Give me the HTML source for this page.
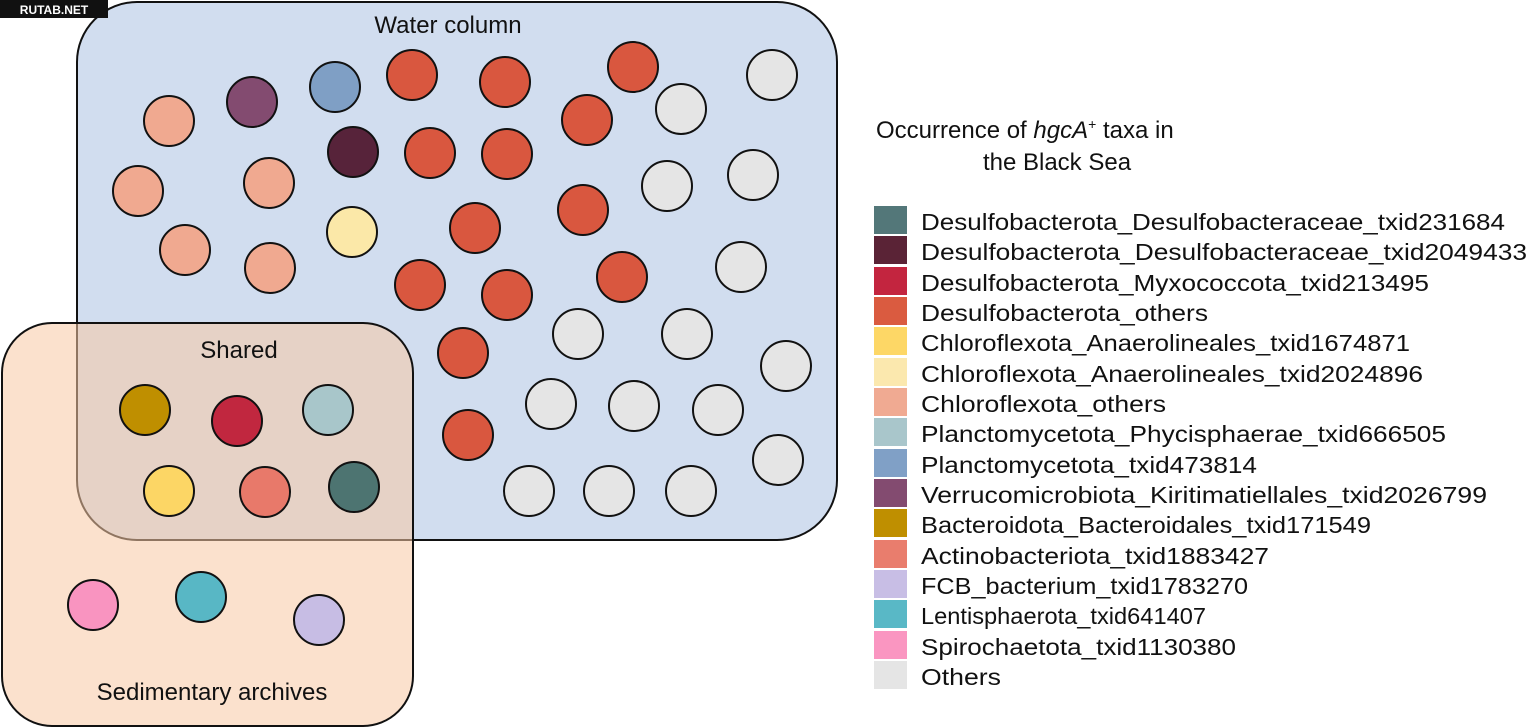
<!DOCTYPE html>
<html><head><meta charset="utf-8"><style>body{margin:0;background:#fff}svg{display:block}</style></head><body>
<svg width="1527" height="728" viewBox="0 0 1527 728" xmlns="http://www.w3.org/2000/svg" font-family="Liberation Sans, sans-serif">
<rect x="77" y="2" width="760" height="538" rx="60" fill="#d1ddef" stroke="#111" stroke-width="2"/>
<rect x="2" y="323" width="411" height="403" rx="50" fill="#f7c9a4" fill-opacity="0.55" stroke="#111" stroke-width="2"/>
<rect x="0" y="0" width="108" height="18" fill="#111"/>
<text x="54" y="14" fill="#fff" font-size="12" font-weight="bold" text-anchor="middle">RUTAB.NET</text>
<text x="448" y="33" font-size="24" text-anchor="middle" fill="#111">Water column</text>
<text x="239" y="358" font-size="24" text-anchor="middle" fill="#111">Shared</text>
<text x="212" y="700" font-size="24" text-anchor="middle" fill="#111">Sedimentary archives</text>
<g stroke="#111" stroke-width="2">
<g fill="#f0a990"><ellipse cx="169" cy="121" rx="25" ry="25"/><ellipse cx="138" cy="191" rx="25" ry="25"/><ellipse cx="269" cy="183" rx="25" ry="25"/><ellipse cx="185" cy="250" rx="25" ry="25"/><ellipse cx="270" cy="268" rx="25" ry="25"/></g>
<ellipse cx="252" cy="102" rx="25" ry="25" fill="#834b70"/>
<ellipse cx="335" cy="87" rx="25" ry="25" fill="#7f9fc5"/>
<ellipse cx="353" cy="152" rx="25" ry="25" fill="#57233a"/>
<ellipse cx="352" cy="232" rx="25" ry="25" fill="#fbe8a8"/>
<g fill="#d9573f"><ellipse cx="412" cy="75" rx="25" ry="25"/><ellipse cx="505" cy="82" rx="25" ry="25"/><ellipse cx="633" cy="67" rx="25" ry="25"/><ellipse cx="587" cy="120" rx="25" ry="25"/><ellipse cx="430" cy="153" rx="25" ry="25"/><ellipse cx="507" cy="154" rx="25" ry="25"/><ellipse cx="583" cy="210" rx="25" ry="25"/><ellipse cx="475" cy="228" rx="25" ry="25"/><ellipse cx="420" cy="285" rx="25" ry="25"/><ellipse cx="507" cy="295" rx="25" ry="25"/><ellipse cx="622" cy="277" rx="25" ry="25"/><ellipse cx="463" cy="353" rx="25" ry="25"/><ellipse cx="468" cy="435" rx="25" ry="25"/></g>
<g fill="#e5e5e5"><ellipse cx="772" cy="75" rx="25" ry="25"/><ellipse cx="681" cy="109" rx="25" ry="25"/><ellipse cx="667" cy="186" rx="25" ry="25"/><ellipse cx="753" cy="175" rx="25" ry="25"/><ellipse cx="741" cy="267" rx="25" ry="25"/><ellipse cx="578" cy="334" rx="25" ry="25"/><ellipse cx="687" cy="334" rx="25" ry="25"/><ellipse cx="786" cy="366" rx="25" ry="25"/><ellipse cx="551" cy="404" rx="25" ry="25"/><ellipse cx="634" cy="406" rx="25" ry="25"/><ellipse cx="718" cy="410" rx="25" ry="25"/><ellipse cx="778" cy="460" rx="25" ry="25"/><ellipse cx="529" cy="491" rx="25" ry="25"/><ellipse cx="609" cy="491" rx="25" ry="25"/><ellipse cx="691" cy="491" rx="25" ry="25"/></g>
<ellipse cx="145" cy="410" rx="25" ry="25" fill="#bf8f00"/>
<ellipse cx="237" cy="421" rx="25" ry="25" fill="#c1273f"/>
<ellipse cx="328" cy="410" rx="25" ry="25" fill="#a8c6ca"/>
<ellipse cx="169" cy="491" rx="25" ry="25" fill="#fcd665"/>
<ellipse cx="265" cy="492" rx="25" ry="25" fill="#e8796a"/>
<ellipse cx="354" cy="487" rx="25" ry="25" fill="#4d7471"/>
<ellipse cx="93" cy="605" rx="25" ry="25" fill="#f994c0"/>
<ellipse cx="201" cy="597" rx="25" ry="25" fill="#58b7c5"/>
<ellipse cx="319" cy="620" rx="25" ry="25" fill="#c7bde4"/>
</g>
<text x="876" y="138" font-size="24" fill="#111">Occurrence of <tspan font-style="italic">hgcA</tspan><tspan font-size="14" dy="-9">+</tspan><tspan dy="9"> taxa in</tspan></text>
<text x="1057" y="170" font-size="24" text-anchor="middle" fill="#111">the Black Sea</text>
<g font-size="23" fill="#111" lengthAdjust="spacingAndGlyphs">
<rect x="874" y="206" width="33" height="28" fill="#537779"/><text x="921" y="230" textLength="584" lengthAdjust="spacingAndGlyphs">Desulfobacterota_Desulfobacteraceae_txid231684</text>
<rect x="874" y="236" width="33" height="28" fill="#5a2336"/><text x="921" y="260" textLength="606" lengthAdjust="spacingAndGlyphs">Desulfobacterota_Desulfobacteraceae_txid2049433</text>
<rect x="874" y="267" width="33" height="28" fill="#c3253f"/><text x="921" y="291" textLength="508" lengthAdjust="spacingAndGlyphs">Desulfobacterota_Myxococcota_txid213495</text>
<rect x="874" y="297" width="33" height="28" fill="#da5b40"/><text x="921" y="321" textLength="287" lengthAdjust="spacingAndGlyphs">Desulfobacterota_others</text>
<rect x="874" y="327" width="33" height="28" fill="#fdd766"/><text x="921" y="351" textLength="489" lengthAdjust="spacingAndGlyphs">Chloroflexota_Anaerolineales_txid1674871</text>
<rect x="874" y="358" width="33" height="28" fill="#fbe8ae"/><text x="921" y="382" textLength="502" lengthAdjust="spacingAndGlyphs">Chloroflexota_Anaerolineales_txid2024896</text>
<rect x="874" y="388" width="33" height="28" fill="#f0aa92"/><text x="921" y="412" textLength="245" lengthAdjust="spacingAndGlyphs">Chloroflexota_others</text>
<rect x="874" y="418" width="33" height="28" fill="#a9c6cb"/><text x="921" y="442" textLength="525" lengthAdjust="spacingAndGlyphs">Planctomycetota_Phycisphaerae_txid666505</text>
<rect x="874" y="449" width="33" height="28" fill="#80a0c6"/><text x="921" y="473" textLength="336" lengthAdjust="spacingAndGlyphs">Planctomycetota_txid473814</text>
<rect x="874" y="479" width="33" height="28" fill="#834b70"/><text x="921" y="503" textLength="566" lengthAdjust="spacingAndGlyphs">Verrucomicrobiota_Kiritimatiellales_txid2026799</text>
<rect x="874" y="509" width="33" height="28" fill="#bf8f00"/><text x="921" y="533" textLength="450" lengthAdjust="spacingAndGlyphs">Bacteroidota_Bacteroidales_txid171549</text>
<rect x="874" y="540" width="33" height="28" fill="#e97d6d"/><text x="921" y="564" textLength="348" lengthAdjust="spacingAndGlyphs">Actinobacteriota_txid1883427</text>
<rect x="874" y="570" width="33" height="28" fill="#c8bee5"/><text x="921" y="594" textLength="327" lengthAdjust="spacingAndGlyphs">FCB_bacterium_txid1783270</text>
<rect x="874" y="600" width="33" height="28" fill="#59b8c6"/><text x="921" y="624" textLength="285" lengthAdjust="spacingAndGlyphs">Lentisphaerota_txid641407</text>
<rect x="874" y="631" width="33" height="28" fill="#fa96c1"/><text x="921" y="655" textLength="315" lengthAdjust="spacingAndGlyphs">Spirochaetota_txid1130380</text>
<rect x="874" y="661" width="33" height="28" fill="#e5e5e5"/><text x="921" y="685" textLength="80" lengthAdjust="spacingAndGlyphs">Others</text>
</g>
</svg>
</body></html>
